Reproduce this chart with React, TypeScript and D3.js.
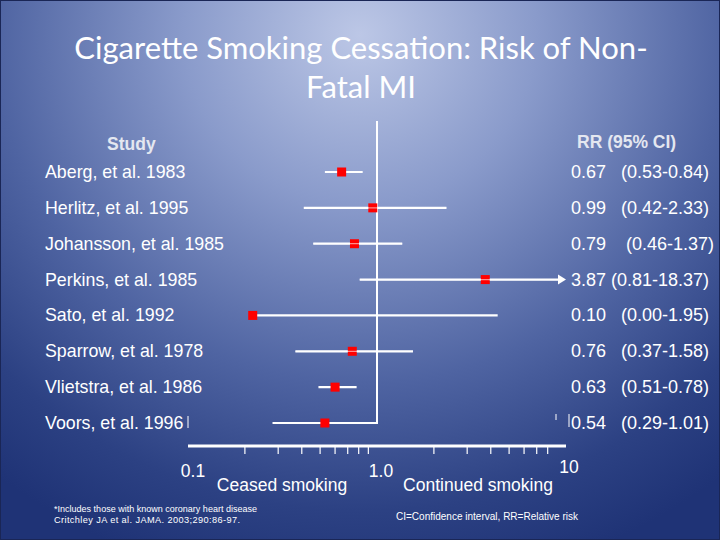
import React from "react";
import * as d3 from "d3";

const studies = [
  "Aberg, et al. 1983",
  "Herlitz, et al. 1995",
  "Johansson, et al. 1985",
  "Perkins, et al. 1985",
  "Sato, et al. 1992",
  "Sparrow, et al. 1978",
  "Vlietstra, et al. 1986",
  "Voors, et al. 1996",
];
// plotted positions
const rrPlot = [0.65, 0.95, 0.76, 3.74, 0.22, 0.74, 0.6, 0.53];
const loPlot = [0.53, 0.41, 0.46, 0.81, 0.22, 0.37, 0.49, 0.28];
const hiPlot = [0.84, 2.33, 1.36, 10, 4.35, 1.55, 0.78, 1.0];
const arrowRight = [false, false, false, true, false, false, false, false];
const lineOverMarker = [false, true, true, true, false, true, false, false];
const rrText = [
  "0.67   (0.53-0.84)",
  "0.99   (0.42-2.33)",
  "0.79    (0.46-1.37)",
  "3.87 (0.81-18.37)",
  "0.10   (0.00-1.95)",
  "0.76   (0.37-1.58)",
  "0.63   (0.51-0.78)",
  "0.54   (0.29-1.01)",
];
const minorTicks = [0.2, 0.3, 0.4, 0.5, 0.6, 0.7, 0.8, 0.9, 2, 3, 4, 5, 6, 7, 8];
const majorTickLabels = [
  { v: 0.1, t: "0.1" },
  { v: 1, t: "1.0" },
  { v: 10, t: "10" },
];

const W = 720;
const H = 540;

export default function App() {
  const x = d3.scaleLog().domain([0.1, 10]).range([188, 566]);
  const y = d3
    .scalePoint<string>()
    .domain(studies)
    .range([172, 423]);
  const font = "'Liberation Sans', Arial, sans-serif";
  const axisY = 446;
  return (
    <svg
      width={W}
      height={H}
      style={{ position: "absolute", left: 0, top: 0, display: "block" }}
    >
      <defs>
        <radialGradient
          id="bg"
          gradientUnits="userSpaceOnUse"
          cx={360}
          cy={35}
          r={560}
          gradientTransform="translate(360,35) scale(1.05,1) translate(-360,-35)"
        >
          <stop offset="0" stopColor="#bcc7e6" />
          <stop offset="0.3" stopColor="#8a9bcb" />
          <stop offset="0.62" stopColor="#4f64a2" />
          <stop offset="0.85" stopColor="#2c4183" />
          <stop offset="1" stopColor="#1f3376" />
        </radialGradient>
      </defs>
      <rect x={0} y={0} width={W} height={H} fill="url(#bg)" />
      <rect x={0.5} y={0.5} width={W - 1} height={H - 1} fill="none" stroke="#1a2656" strokeWidth={1} />

      {/* Title */}
      <g fill="#ffffff" fontFamily="Lato, 'Open Sans', sans-serif" fontSize={31} textAnchor="middle">
        <text x={361} y={59}>Cigarette Smoking Cessation: Risk of Non-</text>
        <text x={361} y={98}>Fatal MI</text>
      </g>

      {/* Headers */}
      <g fontFamily={font} fontWeight="bold" fontSize={17.5} fill="#e4e7f0">
        <text x={107} y={150}>Study</text>
        <text x={577} y={148}>RR (95% CI)</text>
      </g>

      {/* reference line at 1 */}
      <line x1={x(1)} x2={x(1)} y1={121} y2={424} stroke="#ffffff" strokeWidth={2} />

      {/* rows */}
      {studies.map((s, i) => {
        const cy = y(s) as number;
        const x1 = x(loPlot[i]);
        const x2 = x(hiPlot[i]);
        const xm = x(rrPlot[i]);
        const ci = (
          <line
            x1={x1}
            x2={arrowRight[i] ? x2 - 6 : x2}
            y1={cy}
            y2={cy}
            stroke="#ffffff"
            strokeWidth={2.2}
          />
        );
        return (
          <g key={s}>
            <text
              x={45}
              y={cy + 6}
              fontFamily={font}
              fontSize={17.8}
              fill="#ffffff"
            >
              {s}
            </text>
            {!lineOverMarker[i] && ci}
            {arrowRight[i] && (
              <path
                d={`M${x2 - 8},${cy - 5} L${x2},${cy} L${x2 - 8},${cy + 5} Z`}
                fill="#ffffff"
              />
            )}
            <rect x={xm - 4.5} y={cy - 4.5} width={9} height={9} fill="#ff0000" />
            {lineOverMarker[i] && (
              <line
                x1={x1}
                x2={arrowRight[i] ? x2 - 6 : x2}
                y1={cy}
                y2={cy}
                stroke="#ffffff"
                strokeOpacity={0.55}
                strokeWidth={1.2}
              />
            )}
            {lineOverMarker[i] && (
              <g>
                <line x1={x1} x2={xm - 4.5} y1={cy} y2={cy} stroke="#ffffff" strokeWidth={2.2} />
                <line x1={xm + 4.5} x2={arrowRight[i] ? x2 - 6 : x2} y1={cy} y2={cy} stroke="#ffffff" strokeWidth={2.2} />
              </g>
            )}
            <text
              x={571}
              y={cy + 6}
              fontFamily={font}
              fontSize={18}
              fill="#ffffff"
              style={{ whiteSpace: "pre" }}
              xmlSpace="preserve"
            >
              {rrText[i]}
            </text>
          </g>
        );
      })}

      {/* small artefact marks near last row */}
      <g stroke="#ffffff" strokeWidth={1}>
        <line x1={188} x2={188} y1={416} y2={428} />
        <line x1={556} x2={556} y1={414} y2={420} />
        <line x1={569} x2={569} y1={414} y2={427} />
      </g>

      {/* axis */}
      <line x1={x(0.1)} x2={x(10)} y1={axisY} y2={axisY} stroke="#ffffff" strokeWidth={3} />
      {minorTicks.map((t) => (
        <line
          key={t}
          x1={x(t)}
          x2={x(t)}
          y1={axisY}
          y2={axisY + 8}
          stroke="#ffffff"
          strokeWidth={1.2}
        />
      ))}
      <g fontFamily={font} fontSize={17.5} fill="#ffffff" textAnchor="middle">
        {majorTickLabels.map((m, i) => (
          <text key={m.t} x={x(m.v) + (i === 0 ? 5 : i === 1 ? 4 : 3)} y={i === 2 ? 473 : 477}>
            {m.t}
          </text>
        ))}
        <text x={282} y={491}>Ceased smoking</text>
        <text x={478} y={491}>Continued smoking</text>
      </g>

      {/* footnotes */}
      <g fontFamily={font} fill="#ffffff">
        <text x={54} y={512} fontSize={9} textLength={203} lengthAdjust="spacing">*Includes those with known coronary heart disease</text>
        <text x={54} y={523} fontSize={9.2} textLength={186} lengthAdjust="spacing">Critchley JA et al. JAMA. 2003;290:86-97.</text>
        <text x={396} y={520} fontSize={10} textLength={182} lengthAdjust="spacing">CI=Confidence interval, RR=Relative risk</text>
      </g>
    </svg>
  );
}
